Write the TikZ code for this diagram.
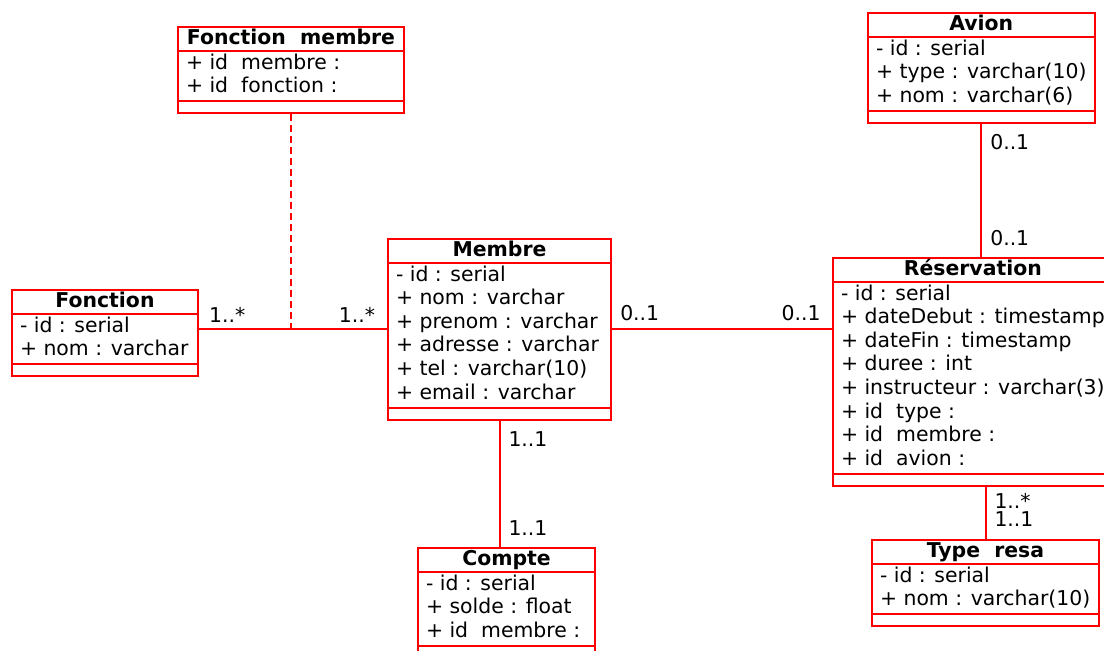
\documentclass[tikz,border=0pt]{standalone}
\usepackage{fontspec}
\setmainfont{DejaVu Sans}
\usetikzlibrary{shapes.multipart,positioning}
\newcommand{\titre}[1]{\rule[-2.3pt]{0pt}{10.5pt}\textbf{#1}}
\newcommand{\attributs}[1]{\begin{tabular}{@{}l@{}}#1\end{tabular}}
\newcommand{\vide}{\rule{0pt}{4.5pt}\hspace*{1pt}}

\begin{document}
\begin{tikzpicture}[x=0.5pt, y=-0.5pt, line width=1pt,
  classe/.style={draw=red, rectangle split, rectangle split parts=3,
    rectangle split part align={center,left,left},
    anchor=north west, inner xsep=4pt, inner ysep=0.25pt,
    font=\fontsize{10.2}{11.8}\selectfont},
  lien/.style={draw=red},
  mult/.style={font=\fontsize{10.2}{12}\selectfont, inner sep=2pt}]
  \useasboundingbox (0,0) rectangle (1104,651);

  % classes
  \node[classe, minimum width=113pt] (fonctionmembre) at (177,26)
    {\titre{Fonction\ \ membre}
     \nodepart{two} \attributs{+ id\ \ membre :\\ + id\ \ fonction :}
     \nodepart{three} \vide};
  \node[classe, minimum width=93pt] (fonction) at (11,289)
    {\titre{Fonction}
     \nodepart{two} \attributs{- id : serial\\ + nom : varchar}
     \nodepart{three} \vide};
  \node[classe, minimum width=111.5pt] (membre) at (387,238)
    {\titre{Membre}
     \nodepart{two} \attributs{- id : serial\\ + nom : varchar\\ + prenom : varchar\\
       + adresse : varchar\\ + tel : varchar(10)\\ + email : varchar}
     \nodepart{three} \vide};
  \node[classe, minimum width=135.5pt] (reservation) at (832,257)
    {\titre{Réservation}
     \nodepart{two} \attributs{- id : serial\\ + dateDebut : timestamp\\ + dateFin : timestamp\\
       + duree : int\\ + instructeur : varchar(3)\\ + id\ \ type :\\
       + id\ \ membre :\\ + id\ \ avion :}
     \nodepart{three} \vide};
  \node[classe, minimum width=113pt] (avion) at (867,12)
    {\titre{Avion}
     \nodepart{two} \attributs{- id : serial\\ + type : varchar(10)\\ + nom : varchar(6)}
     \nodepart{three} \vide};
  \node[classe, minimum width=113.5pt] (typeresa) at (871,539)
    {\titre{Type\ \ resa}
     \nodepart{two} \attributs{- id : serial\\ + nom : varchar(10)}
     \nodepart{three} \vide};
  \node[classe, minimum width=88.5pt] (compte) at (417,547)
    {\titre{Compte}
     \nodepart{two} \attributs{- id : serial\\ + solde : float\\ + id\ \ membre :}
     \nodepart{three} \vide};

  % associations
  \draw[lien] (fonction.east |- membre.west)
    -- node[mult, pos=0.15, above=1pt] (mf1) {1..*}
       node[mult, pos=0.84, above=1pt] (mf2) {1..*} (membre.west);
  \draw[lien, line width=0.75pt, dash pattern=on 3.5pt off 2pt]
    (fonctionmembre.south) -- (fonctionmembre.south |- membre.west);
  \draw[lien] (membre.east)
    -- node[mult, pos=0.126, above=2pt] (mr1) {0..1}
       node[mult, pos=0.86, above=2pt] (mr2) {0..1} (membre.east -| reservation.west);
  \draw[lien] (avion.south)
    -- node[mult, pos=0.14, right=2pt] (ar1) {0..1}
       node[mult, pos=0.86, right=2pt] (ar2) {0..1} (avion.south |- reservation.north);
  \draw[lien] (membre.south)
    -- node[mult, pos=0.15, right=2pt] (mc1) {1..1}
       node[mult, pos=0.85, right=2pt] (mc2) {1..1} (membre.south |- compte.north);
  \draw[lien] (typeresa.north |- reservation.south)
    -- node[mult, pos=0.28, right=2pt] (rt1) {1..*}
       node[mult, pos=0.62, right=2pt] (rt2) {1..1} (typeresa.north);
\end{tikzpicture}
\end{document}
